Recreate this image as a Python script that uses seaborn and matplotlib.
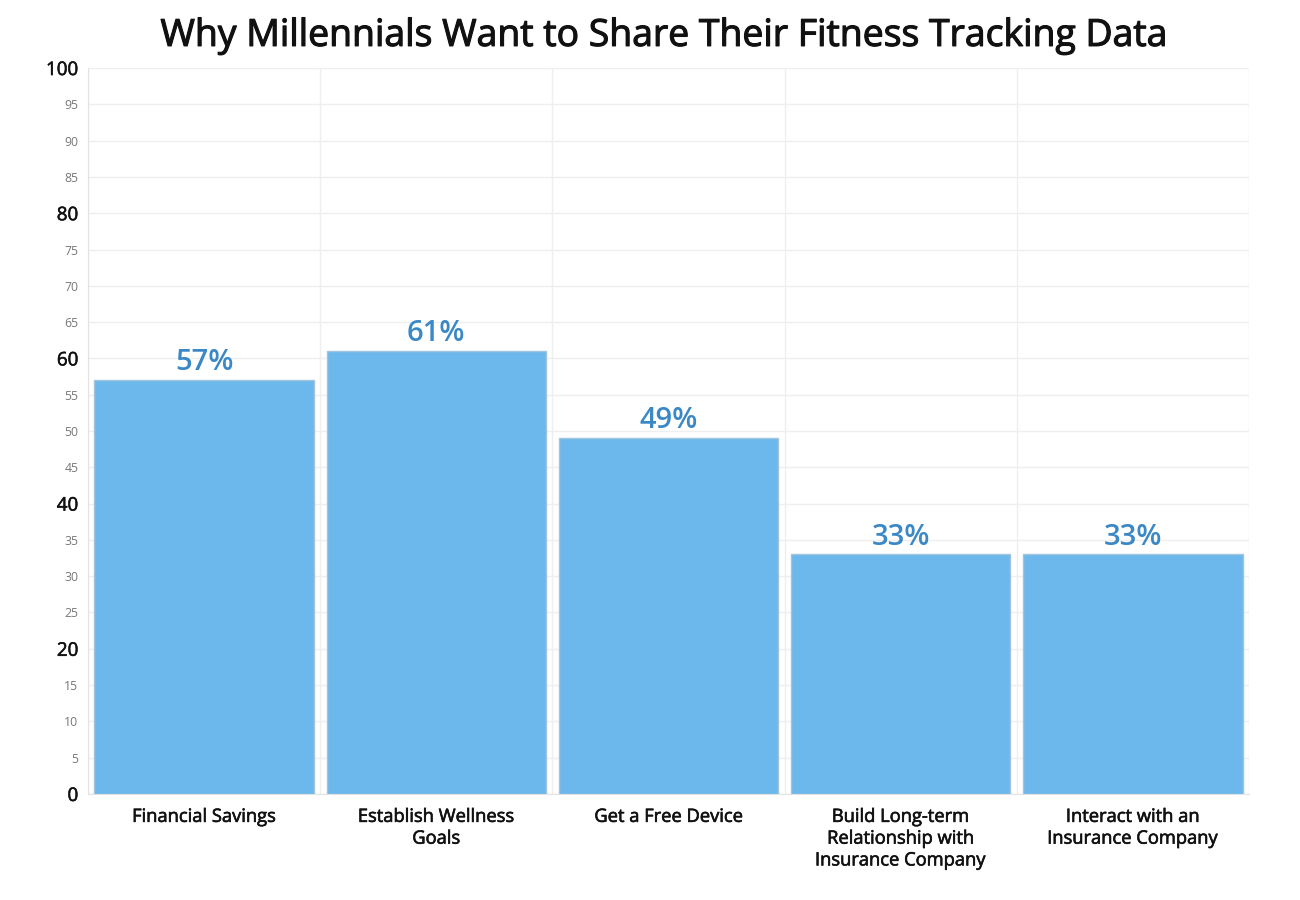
import matplotlib
matplotlib.use("Agg")
import matplotlib.pyplot as plt
import matplotlib.patheffects as pe
import seaborn as sns
import pandas as pd

# data
categories = ["Financial Savings", "Establish Wellness\nGoals", "Get a Free Device",
              "Build Long-term\nRelationship with\nInsurance Company",
              "Interact with an\nInsurance Company"]
values = [57, 61, 49, 33, 33]
yticks = list(range(0, 101, 5))

sns.set_style("white")
plt.rcParams["font.family"] = ["Open Sans", "DejaVu Sans"]

df = pd.DataFrame({"reason": categories, "pct": values})

fig = plt.figure(figsize=(13, 9), dpi=100)
ax = fig.add_axes([0.0677, 0.1178, 0.8931, 0.8066])

sns.barplot(data=df, x="reason", y="pct", color="#6cb8ec", width=0.945,
            edgecolor="#a3c4dc", linewidth=1, saturation=1, ax=ax, zorder=3)

ax.set_ylim(0, 100)
ax.set_xlim(-0.5, len(categories) - 0.5)

# grid
ax.set_yticks(yticks)
ax.set_xticks([i - 0.5 for i in range(len(categories) + 1)], minor=True)
ax.grid(True, axis="y", color="#efefef", linewidth=1, zorder=0)
ax.grid(True, axis="x", which="minor", color="#efefef", linewidth=1, zorder=0)
ax.grid(False, axis="x", which="major")

for s in ["top", "right"]:
    ax.spines[s].set_visible(False)
ax.spines["left"].set_color("#e3e3e3")
ax.spines["bottom"].set_color("#e3e3e3")

ax.tick_params(axis="y", length=5, color="#e3e3e3", pad=2)
ax.tick_params(axis="x", which="major", length=0, pad=10)
ax.tick_params(axis="x", which="minor", length=5, color="#e3e3e3")

ax.set_yticklabels([str(t) for t in yticks])
for t, lab in zip(yticks, ax.get_yticklabels()):
    if t % 20 == 0:
        lab.set_fontsize(13.5)
        lab.set_color("#111111")
        lab.set_path_effects([pe.withStroke(linewidth=0.4, foreground="#111111")])
    else:
        lab.set_fontsize(8.8)
        lab.set_color("#777777")

ax.set_xticklabels(categories, fontsize=13.2, color="#111111",
                   linespacing=1.27, va="top")
for lab in ax.get_xticklabels():
    lab.set_path_effects([pe.withStroke(linewidth=0.45, foreground="#111111")])

ax.set_xlabel("")
ax.set_ylabel("")

for i, v in enumerate(values):
    ax.text(i, v + 0.4, f"{v}%", ha="center", va="bottom", fontsize=21,
            fontweight="semibold", color="#3a88c6", zorder=4)

title = fig.suptitle("Why Millennials Want to Share Their Fitness Tracking Data",
                     fontsize=26.9, color="#111111", x=0.511, y=0.979, va="top")
title.set_path_effects([pe.withStroke(linewidth=0.8, foreground="#111111")])

fig.savefig("out.png", dpi=100, facecolor="white")
